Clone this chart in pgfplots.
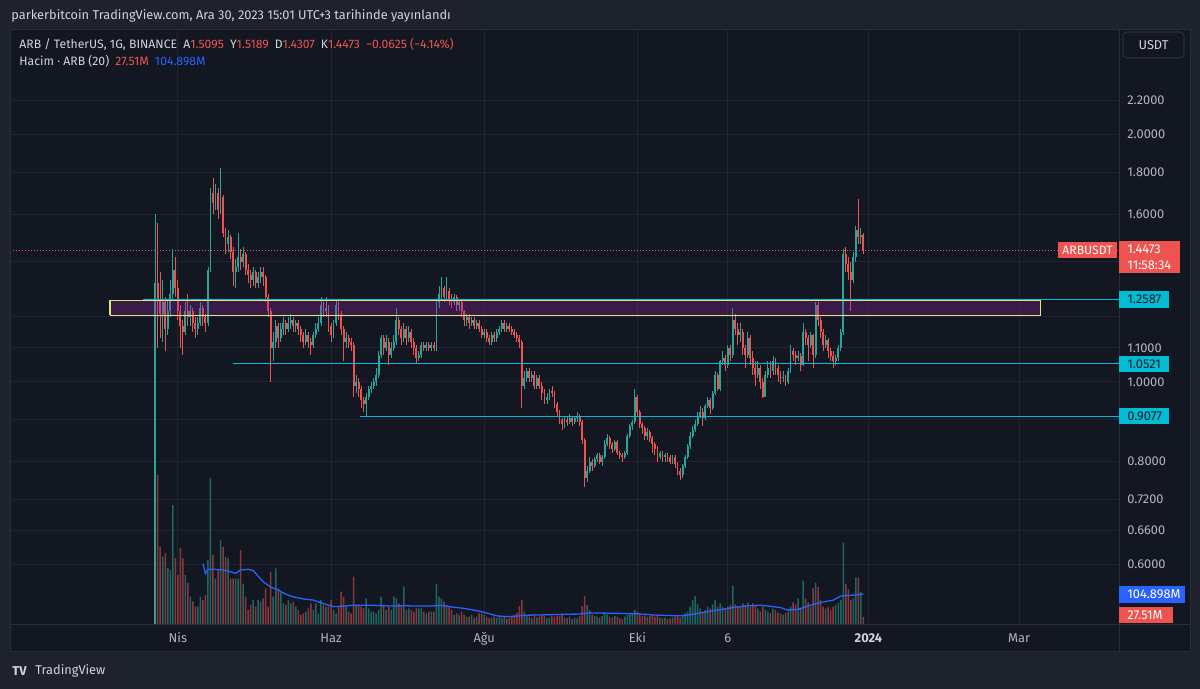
\documentclass[border=0pt]{standalone}
\usepackage{fontspec}
\setmainfont{Fira Sans}
\usepackage{pgfplots}
\usepackage{pgfplotstable}
\pgfplotsset{compat=1.18}
\definecolor{outerbg}{RGB}{30,34,45}
\definecolor{panebg}{RGB}{19,23,34}
\definecolor{gridc}{RGB}{32,36,48}
\definecolor{sepc}{RGB}{42,46,57}
\definecolor{upc}{RGB}{38,166,154}
\definecolor{dnc}{RGB}{239,83,80}
\definecolor{upv}{RGB}{30,102,98}
\definecolor{dnv}{RGB}{140,56,59}
\definecolor{txt}{RGB}{209,212,220}
\definecolor{axtxt}{RGB}{178,181,190}
\definecolor{cyanl}{RGB}{0,188,212}
\definecolor{mablue}{RGB}{41,98,255}
\definecolor{boxyel}{RGB}{230,225,125}
\definecolor{boxfill}{RGB}{156,39,176}
\newcommand\fa{\fontsize{6.4}{7.5}\selectfont}
\newcommand\fb{\fontsize{6.1}{7.2}\selectfont}
\newcommand\upx{\thisrow{c}<\thisrow{o} ? nan : \thisrow{d}}
\newcommand\dnx{\thisrow{c}<\thisrow{o} ? \thisrow{d} : nan}

\pgfplotstableread{
d o h l c v
-9 0.45 1.60 0.40 1.32 700
-8 1.32 1.56 1.10 1.26 507
-7 1.26 1.36 1.13 1.21 264
-6 1.21 1.33 1.12 1.25 231
-5 1.25 1.27 1.09 1.16 243
-4 1.16 1.26 1.14 1.22 192
-3 1.22 1.33 1.20 1.28 186
-2 1.28 1.45 1.26 1.37 405
-1 1.37 1.42 1.27 1.30 226
0 1.30 1.33 1.19 1.22 169
1 1.22 1.24 1.10 1.17 260
2 1.17 1.19 1.08 1.15 226
3 1.15 1.25 1.14 1.22 169
4 1.22 1.28 1.17 1.20 142
5 1.20 1.24 1.17 1.22 96
6 1.22 1.23 1.15 1.18 80
7 1.18 1.20 1.13 1.16 62
8 1.16 1.20 1.14 1.18 62
9 1.18 1.25 1.17 1.23 96
10 1.23 1.24 1.17 1.20 84
11 1.20 1.21 1.15 1.18 101
12 1.18 1.38 1.17 1.37 219
13 1.37 1.72 1.36 1.70 496
14 1.70 1.77 1.60 1.65 236
15 1.65 1.74 1.62 1.70 157
16 1.70 1.72 1.58 1.62 185
17 1.62 1.82 1.60 1.68 287
18 1.68 1.69 1.50 1.52 264
19 1.52 1.54 1.43 1.47 230
20 1.47 1.53 1.44 1.50 225
21 1.50 1.51 1.41 1.44 157
22 1.44 1.46 1.31 1.36 157
23 1.36 1.41 1.30 1.38 157
24 1.38 1.52 1.36 1.42 157
25 1.42 1.45 1.37 1.40 253
26 1.40 1.46 1.38 1.43 140
27 1.43 1.44 1.35 1.37 96
28 1.37 1.39 1.32 1.35 51
29 1.35 1.37 1.30 1.33 68
30 1.33 1.38 1.31 1.36 84
31 1.36 1.37 1.30 1.32 62
32 1.32 1.36 1.30 1.34 84
33 1.34 1.38 1.32 1.36 79
34 1.36 1.38 1.31 1.34 90
35 1.34 1.35 1.25 1.27 124
36 1.27 1.28 1.20 1.22 62
37 1.22 1.23 1.00 1.10 180
38 1.10 1.15 1.06 1.12 96
39 1.12 1.19 1.10 1.17 191
40 1.17 1.18 1.10 1.13 124
41 1.13 1.18 1.12 1.16 113
42 1.16 1.20 1.14 1.18 73
43 1.18 1.19 1.14 1.16 68
44 1.16 1.20 1.15 1.18 84
45 1.18 1.21 1.16 1.19 73
46 1.19 1.20 1.15 1.17 79
47 1.17 1.19 1.15 1.18 62
48 1.18 1.19 1.14 1.16 51
49 1.16 1.17 1.12 1.14 34
50 1.14 1.15 1.10 1.12 39
51 1.12 1.16 1.11 1.14 45
52 1.14 1.15 1.10 1.12 56
53 1.12 1.13 1.08 1.11 73
54 1.11 1.15 1.10 1.14 51
55 1.14 1.18 1.13 1.16 73
56 1.16 1.20 1.15 1.18 39
57 1.18 1.27 1.17 1.24 84
58 1.24 1.25 1.20 1.22 68
59 1.22 1.27 1.20 1.23 62
60 1.23 1.24 1.15 1.17 62
61 1.17 1.18 1.12 1.14 84
62 1.14 1.19 1.13 1.18 51
63 1.18 1.26 1.17 1.24 39
64 1.24 1.25 1.19 1.21 62
65 1.21 1.22 1.14 1.16 113
66 1.16 1.17 1.06 1.12 96
67 1.12 1.15 1.10 1.13 62
68 1.13 1.14 1.10 1.12 45
69 1.12 1.13 1.09 1.11 39
70 1.11 1.12 0.96 0.99 163
71 0.99 1.02 0.97 1.00 68
72 1.00 1.01 0.96 0.98 68
73 0.98 0.99 0.93 0.95 62
74 0.95 0.96 0.92 0.94 56
75 0.94 0.97 0.908 0.96 90
76 0.96 0.99 0.95 0.98 56
77 0.98 1.00 0.97 0.99 45
78 0.99 1.01 0.98 1.00 45
79 1.00 1.04 0.99 1.02 39
80 1.02 1.09 1.01 1.08 51
81 1.08 1.14 1.07 1.13 96
82 1.13 1.14 1.08 1.10 68
83 1.10 1.14 1.09 1.12 51
84 1.12 1.13 1.05 1.08 62
85 1.08 1.12 1.07 1.10 51
86 1.10 1.14 1.09 1.12 96
87 1.12 1.23 1.11 1.19 90
88 1.19 1.20 1.14 1.16 73
89 1.16 1.17 1.11 1.13 68
90 1.13 1.18 1.12 1.16 130
91 1.16 1.17 1.11 1.13 51
92 1.13 1.17 1.12 1.15 56
93 1.15 1.16 1.10 1.12 51
94 1.12 1.13 1.08 1.10 45
95 1.10 1.11 1.055 1.07 56
96 1.07 1.09 1.06 1.08 56
97 1.08 1.12 1.07 1.11 56
98 1.11 1.12 1.09 1.10 45
99 1.10 1.12 1.09 1.11 39
100 1.11 1.12 1.09 1.10 45
101 1.10 1.12 1.09 1.11 45
102 1.11 1.12 1.09 1.10 45
103 1.10 1.26 1.09 1.25 140
104 1.25 1.31 1.23 1.28 96
105 1.28 1.34 1.26 1.30 90
106 1.30 1.31 1.25 1.27 79
107 1.27 1.34 1.26 1.29 68
108 1.29 1.30 1.24 1.26 62
109 1.26 1.28 1.23 1.25 51
110 1.25 1.28 1.24 1.27 34
111 1.27 1.275 1.22 1.24 39
112 1.24 1.26 1.22 1.25 34
113 1.25 1.26 1.20 1.22 45
114 1.22 1.225 1.17 1.19 34
115 1.19 1.21 1.17 1.20 28
116 1.20 1.21 1.16 1.18 28
117 1.18 1.20 1.17 1.19 34
118 1.19 1.20 1.16 1.17 23
119 1.17 1.19 1.16 1.18 28
120 1.18 1.19 1.15 1.16 39
121 1.16 1.17 1.13 1.14 39
122 1.14 1.16 1.13 1.15 34
123 1.15 1.16 1.12 1.13 28
124 1.13 1.14 1.11 1.12 23
125 1.12 1.15 1.11 1.14 23
126 1.14 1.15 1.12 1.13 28
127 1.13 1.16 1.12 1.15 25
128 1.15 1.17 1.14 1.16 30
129 1.16 1.19 1.15 1.18 22
130 1.18 1.19 1.15 1.16 28
131 1.16 1.18 1.15 1.17 20
132 1.17 1.18 1.15 1.16 25
133 1.16 1.17 1.14 1.15 30
134 1.15 1.16 1.13 1.14 35
135 1.14 1.15 1.12 1.13 40
136 1.13 1.14 1.10 1.12 64
137 1.12 1.125 0.93 0.99 84
138 0.99 1.03 0.98 1.01 45
139 1.01 1.04 1.00 1.03 30
140 1.03 1.04 1.00 1.01 28
141 1.01 1.03 1.00 1.02 22
142 1.02 1.03 0.98 0.99 35
143 0.99 1.02 0.98 1.01 25
144 1.01 1.02 0.98 0.99 28
145 0.99 1.00 0.95 0.97 32
146 0.97 0.98 0.94 0.95 30
147 0.95 0.97 0.94 0.96 22
148 0.96 0.98 0.95 0.975 25
149 0.975 0.99 0.96 0.97 30
150 0.97 0.975 0.93 0.94 28
151 0.94 0.945 0.91 0.92 32
152 0.92 0.925 0.89 0.90 30
153 0.90 0.905 0.875 0.89 35
154 0.89 0.91 0.88 0.90 25
155 0.90 0.91 0.885 0.895 22
156 0.895 0.915 0.89 0.905 28
157 0.905 0.91 0.885 0.895 20
158 0.895 0.91 0.89 0.905 25
159 0.905 0.92 0.895 0.91 22
160 0.91 0.915 0.885 0.895 30
161 0.895 0.90 0.84 0.85 64
162 0.85 0.855 0.745 0.765 98
163 0.765 0.79 0.755 0.78 68
164 0.78 0.81 0.775 0.80 51
165 0.80 0.805 0.78 0.79 35
166 0.79 0.81 0.785 0.805 30
167 0.805 0.82 0.80 0.815 28
168 0.815 0.82 0.795 0.80 25
169 0.80 0.815 0.79 0.81 30
170 0.81 0.85 0.805 0.84 40
171 0.84 0.865 0.835 0.855 35
172 0.855 0.86 0.83 0.84 28
173 0.84 0.845 0.82 0.83 25
174 0.83 0.85 0.825 0.845 30
175 0.845 0.85 0.815 0.82 28
176 0.82 0.825 0.805 0.815 22
177 0.815 0.82 0.80 0.81 20
178 0.81 0.825 0.805 0.82 28
179 0.82 0.865 0.815 0.86 35
180 0.86 0.89 0.855 0.885 40
181 0.885 0.90 0.875 0.895 38
182 0.895 0.98 0.89 0.96 50
183 0.96 0.965 0.91 0.92 45
184 0.92 0.925 0.88 0.89 35
185 0.89 0.895 0.865 0.88 30
186 0.88 0.885 0.85 0.86 32
187 0.86 0.88 0.85 0.87 28
188 0.87 0.875 0.845 0.855 30
189 0.855 0.86 0.82 0.84 35
190 0.84 0.845 0.815 0.83 28
191 0.83 0.835 0.80 0.81 30
192 0.81 0.825 0.805 0.82 25
193 0.82 0.825 0.80 0.81 22
194 0.81 0.82 0.80 0.815 25
195 0.815 0.82 0.80 0.81 20
196 0.81 0.815 0.795 0.80 22
197 0.80 0.815 0.795 0.81 25
198 0.81 0.815 0.785 0.795 28
199 0.795 0.80 0.77 0.78 30
200 0.78 0.785 0.76 0.77 25
201 0.77 0.795 0.765 0.79 35
202 0.79 0.815 0.785 0.81 40
203 0.81 0.84 0.805 0.835 45
204 0.835 0.87 0.83 0.86 62
205 0.86 0.885 0.855 0.875 84
206 0.875 0.90 0.87 0.89 98
207 0.89 0.92 0.885 0.91 70
208 0.91 0.935 0.905 0.92 55
209 0.92 0.93 0.885 0.905 45
210 0.905 0.94 0.90 0.935 50
211 0.935 0.96 0.93 0.95 62
212 0.95 0.955 0.915 0.93 55
213 0.93 0.975 0.925 0.97 70
214 0.97 1.03 0.965 1.02 84
215 1.02 1.025 0.975 0.98 62
216 0.98 1.065 0.975 1.06 73
217 1.06 1.09 1.05 1.07 62
218 1.07 1.08 1.03 1.05 55
219 1.05 1.11 1.04 1.10 62
220 1.10 1.11 1.06 1.08 68
221 1.08 1.23 1.07 1.19 131
222 1.19 1.21 1.14 1.16 70
223 1.16 1.18 1.11 1.14 64
224 1.14 1.18 1.12 1.15 62
225 1.15 1.16 1.08 1.10 73
226 1.10 1.11 1.04 1.08 68
227 1.08 1.15 1.07 1.13 76
228 1.13 1.14 1.05 1.07 62
229 1.07 1.09 1.02 1.04 73
230 1.04 1.06 0.99 1.02 68
231 1.02 1.06 1.01 1.04 55
232 1.04 1.05 0.98 1.00 45
233 1.00 1.01 0.955 0.96 62
234 0.96 1.03 0.96 1.02 51
235 1.02 1.06 1.01 1.04 45
236 1.04 1.06 1.01 1.03 40
237 1.03 1.075 1.02 1.06 55
238 1.06 1.07 1.02 1.04 50
239 1.04 1.05 1.00 1.02 42
240 1.02 1.03 0.995 1.01 38
241 1.01 1.03 1.00 1.015 35
242 1.015 1.02 0.99 1.00 40
243 1.00 1.04 0.995 1.03 45
244 1.03 1.11 1.025 1.09 62
245 1.09 1.10 1.06 1.08 76
246 1.08 1.09 1.05 1.07 68
247 1.07 1.09 1.06 1.075 90
248 1.075 1.085 1.03 1.05 55
249 1.05 1.18 1.045 1.15 150
250 1.15 1.16 1.11 1.13 90
251 1.13 1.14 1.06 1.11 76
252 1.11 1.15 1.10 1.14 62
253 1.14 1.145 1.04 1.08 124
254 1.08 1.25 1.07 1.24 143
255 1.24 1.25 1.17 1.19 128
256 1.19 1.20 1.13 1.15 85
257 1.15 1.16 1.09 1.11 62
258 1.11 1.14 1.10 1.125 55
259 1.125 1.13 1.07 1.09 60
260 1.09 1.10 1.06 1.075 50
261 1.075 1.09 1.04 1.06 62
262 1.06 1.08 1.05 1.07 68
263 1.07 1.11 1.06 1.10 75
264 1.10 1.16 1.09 1.15 84
265 1.15 1.45 1.14 1.43 278
266 1.43 1.46 1.36 1.39 138
267 1.39 1.42 1.33 1.36 121
268 1.36 1.40 1.22 1.33 84
269 1.33 1.44 1.32 1.42 90
270 1.42 1.55 1.40 1.53 160
271 1.53 1.67 1.47 1.50 160
272 1.50 1.54 1.47 1.5095 112
273 1.5095 1.5189 1.4307 1.4473 27.51
}\candles

\pgfplotstableread{
d m
10 208
11 174
12 188
15 188
18 186
21 180
23 174
25 186
28 188
30 184
32 165
34 146
37 128
40 118
43 104
46 95
50 88
54 84
58 72
62 62
66 64
70 67
75 67
80 66
85 64
90 65
95 64
101 64
105 66
110 60
114 56
118 50
121 45
124 38
127 31
131 28
135 30
138 33
145 34
153 36
160 37
164 41
170 40
177 39
183 38
189 34
195 32
201 31
204 35
207 39
213 48
217 53
221 59
226 64
232 67
237 62
240 59
243 50
247 53
252 67
256 76
261 84
264 98
268 100
273 104.898
}\vma

\pgfplotsset{
  pane/.style={at={(5pt,32pt)}, anchor=south west, scale only axis,
      width=554.5pt, height=297.5pt, xmin=-66.83, xmax=374.8},
  candle/.style={only marks, mark=*, mark size=0pt, mark options={draw=none, fill=none},
      error bars/y dir=plus, error bars/y explicit, error bars/error mark=none},
}

\begin{document}
\begin{tikzpicture}
\useasboundingbox (0,0) rectangle (600pt,344.5pt);
\fill[outerbg] (0,0) rectangle (600pt,344.5pt);
\begin{scope}[x=0.5pt,y=-0.5pt,shift={(0pt,344.5pt)}]
  \fill[panebg] (10,30) rectangle (1190,652);
\end{scope}

% grid, ticks
\begin{axis}[pane,
  ymode=log, ymin=0.50627, ymax=2.6804,
  axis line style={draw=none},
  major tick length=0pt,
  grid=major, major grid style={gridc, line width=0.5pt},
  xtick={0,61,122,183,219,275,335},
  xticklabels={Nis,Haz,Ağu,Eki,6,{\textbf{\color{txt}2024}},Mar},
  xticklabel style={font=\fa, text=axtxt, anchor=base, inner sep=0pt, yshift=-9pt},
  ytick={0.6,0.66,0.72,0.8,0.9,1.0,1.1,1.2,1.4,1.6,1.8,2.0,2.2},
  yticklabels={0.6000,0.6600,0.7200,0.8000,{},1.0000,1.1000,{},{},1.6000,1.8000,2.0000,2.2000},
  yticklabel pos=right,
  yticklabel style={font=\fa, text=axtxt, anchor=west, inner sep=0pt, xshift=4pt},
]
\end{axis}

% volume
\begin{axis}[pane, ymin=0, ymax=2010, hide axis]
\addplot[ybar, bar width=0.75pt, bar shift=0pt, fill=upv, draw=none]
  table[x expr=\upx, y=v] {\candles};
\addplot[ybar, bar width=0.75pt, bar shift=0pt, fill=dnv, draw=none]
  table[x expr=\dnx, y=v] {\candles};
\addplot[mablue, line width=0.65pt] table[x=d, y=m] {\vma};
\end{axis}

% candles and drawings
\begin{axis}[pane, ymode=log, ymin=0.50627, ymax=2.6804, hide axis]
\addplot[dnc, line width=0.5pt, dash pattern=on 0.5pt off 1pt]
  coordinates {(-66.83,1.4473) (374.8,1.4473)};
\addplot[candle, error bars/error bar style={draw=upc, line width=0.45pt}]
  table[x expr=\upx, y=l, y error plus expr=\thisrow{h}-\thisrow{l}] {\candles};
\addplot[candle, error bars/error bar style={draw=dnc, line width=0.45pt}]
  table[x expr=\dnx, y=l, y error plus expr=\thisrow{h}-\thisrow{l}] {\candles};
\addplot[candle, error bars/error bar style={draw=upc, line width=0.95pt}]
  table[x expr=\upx, y=o, y error plus expr=\thisrow{c}-\thisrow{o}] {\candles};
\addplot[candle, error bars/error bar style={draw=dnc, line width=0.95pt}]
  table[x expr=\dnx, y=c, y error plus expr=\thisrow{o}-\thisrow{c}] {\candles};
\addplot[fill=boxfill, fill opacity=0.28, draw=boxyel, line width=0.55pt]
  coordinates {(-27,1.206) (343.4,1.206) (343.4,1.255) (-27,1.255) (-27,1.206)};
\addplot[cyanl, line width=0.55pt] coordinates {(-13.9,1.2587) (374.8,1.2587)};
\addplot[cyanl, line width=0.55pt] coordinates {(21.9,1.0521) (374.8,1.0521)};
\addplot[cyanl, line width=0.55pt] coordinates {(72.6,0.9077) (374.8,0.9077)};
\end{axis}

\begin{scope}[x=0.5pt,y=-0.5pt,shift={(0pt,344.5pt)}]
  \draw[sepc, line width=0.5pt] (10,30) rectangle (1190,652);
  \draw[sepc, line width=0.5pt] (1119,30) -- (1119,652);
  \draw[sepc, line width=0.5pt] (10,624.5) -- (1190,624.5);
  % header
  \node[anchor=west, inner sep=0pt, text=txt] at (11,16) {\fa parkerbitcoin TradingView.com, Ara 30, 2023 15:01 UTC+3 tarihinde yayınlandı};
  \node[anchor=west, inner sep=0pt, text=txt] at (19,44) {\fb ARB / TetherUS, 1G, BINANCE\enspace A\textcolor{dnc}{1.5095}\enspace Y\textcolor{dnc}{1.5189}\enspace D\textcolor{dnc}{1.4307}\enspace K\textcolor{dnc}{1.4473}\enspace\textcolor{dnc}{−0.0625 (−4.14\%)}};
  \node[anchor=west, inner sep=0pt, text=txt] at (19,61) {\fb Hacim · ARB (20)\enspace\textcolor{dnc}{27.51M}\enspace\textcolor{mablue}{104.898M}};
  % right scale
  \draw[sepc, fill=panebg, rounded corners=2pt, line width=0.6pt] (1123,32) rectangle (1184,58);
  \node[text=txt] at (1153.5,45.5) {\fa USDT};
  \fill[dnc] (1058,242) rectangle (1117,258);
  \node[text=white] at (1087.5,250) {\fb ARBUSDT};
  \fill[dnc] (1119,241) rectangle (1180,273);
  \node[anchor=west, inner sep=0pt, text=white] at (1127,249.5) {\fa 1.4473};
  \node[anchor=west, inner sep=0pt, text=white] at (1127,265) {\fa 11:58:34};
  \fill[cyanl] (1119,291) rectangle (1169,308);
  \node[anchor=west, inner sep=0pt, text=panebg] at (1127,299.5) {\fa 1.2587};
  \fill[cyanl] (1119,356) rectangle (1169,372);
  \node[anchor=west, inner sep=0pt, text=panebg] at (1127,364) {\fa 1.0521};
  \fill[cyanl] (1119,408) rectangle (1169,424);
  \node[anchor=west, inner sep=0pt, text=panebg] at (1127,416) {\fa 0.9077};
  \fill[mablue] (1119,586) rectangle (1185,603);
  \node[anchor=west, inner sep=0pt, text=white] at (1127,594.5) {\fa 104.898M};
  \fill[dnc] (1119,607) rectangle (1173,623);
  \node[anchor=west, inner sep=0pt, text=white] at (1127,615) {\fa 27.51M};
  % footer
  \node[anchor=west, inner sep=0pt, text=txt] at (12,671) {\fa\bfseries TV};
  \node[anchor=west, inner sep=0pt, text=txt] at (35,671) {\fa TradingView};
\end{scope}
\end{tikzpicture}
\end{document}
